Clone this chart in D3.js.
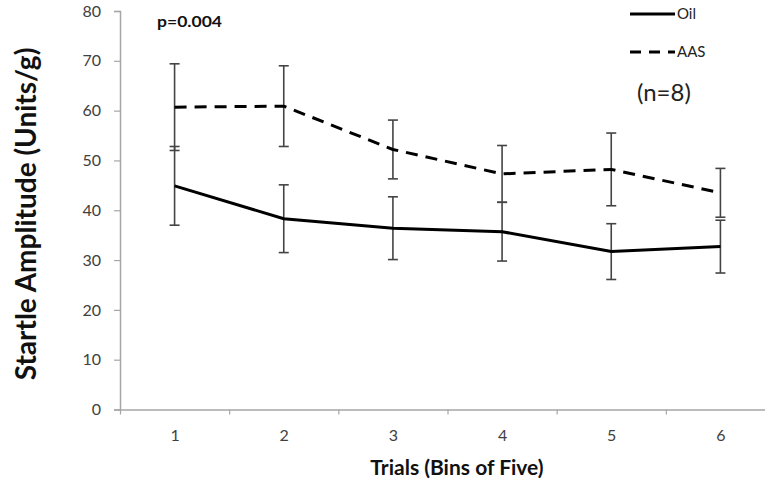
<!DOCTYPE html>
<html>
<head>
<meta charset="utf-8">
<script src="https://cdn.jsdelivr.net/npm/d3@7"></script>
<style>
  html, body { margin: 0; padding: 0; background: #fff; }
  svg { display: block; font-family: Lato, "Open Sans", sans-serif; }
</style>
</head>
<body>
<svg id="chart" width="765" height="482"></svg>
<script>
// Trial bins on the x axis
const bins = [1, 2, 3, 4, 5, 6];
// Mean startle amplitude per bin and its error (± half range)
const oilMean = [44.9, 38.3, 36.4, 35.7, 31.7, 32.7];
const oilErr  = [7.9, 6.8, 6.3, 5.9, 5.6, 5.3];
const aasMean = [60.7, 60.9, 52.2, 47.3, 48.2, 43.5];
const aasErr  = [8.7, 8.1, 5.9, 5.7, 7.3, 4.9];
const yTicks = [0, 10, 20, 30, 40, 50, 60, 70, 80];

const series = [
  { name: "Oil", mean: oilMean, err: oilErr, dash: null },
  { name: "AAS", mean: aasMean, err: aasErr, dash: "12,8" }
];

const svg = d3.select("#chart");
const plotLeft = 120, plotTop = 11, plotBottom = 409.5, plotRight = 775;

const x = d3.scaleLinear().domain([0.5, 6.5]).range([plotLeft, plotRight]);
const y = d3.scaleLinear().domain([0, 80]).range([plotBottom, plotTop]);

const axisColor = "#a6a6a6";
const labelColor = "#404040";

// Y axis
const yAxis = svg.append("g")
  .attr("transform", `translate(${plotLeft},0)`)
  .call(d3.axisLeft(y).tickValues(yTicks).tickSize(6).tickPadding(13));
yAxis.select(".domain").attr("stroke", axisColor).attr("stroke-width", 1.5);
yAxis.selectAll(".tick line").attr("stroke", axisColor).attr("stroke-width", 1.2);
yAxis.selectAll(".tick text").attr("fill", labelColor)
  .style("font-size", "16px").style("font-family", "Lato, sans-serif");

// X axis: ticks on bin boundaries, labels at bin centres
const boundaries = d3.range(0.5, 7, 1);
const xAxis = svg.append("g")
  .attr("transform", `translate(0,${plotBottom})`)
  .call(d3.axisBottom(x).tickValues(boundaries).tickSize(5).tickFormat(""));
xAxis.select(".domain").attr("stroke", axisColor).attr("stroke-width", 1.5)
  .attr("d", `M${plotLeft},0.5H${plotRight}`);
xAxis.selectAll(".tick line").attr("stroke", axisColor).attr("stroke-width", 1.2);

const xLabels = svg.append("g")
  .attr("transform", `translate(0,${plotBottom})`)
  .call(d3.axisBottom(x).tickValues(bins).tickSize(0).tickPadding(20).tickFormat(d3.format("d")));
xLabels.select(".domain").remove();
xLabels.selectAll(".tick text").attr("fill", labelColor)
  .style("font-size", "16px").style("font-family", "Lato, sans-serif");

// Error bars
const capHalf = 5;
series.forEach(s => {
  const g = svg.append("g").attr("class", "err-" + s.name);
  bins.forEach((b, i) => {
    const cx = x(b), hi = y(s.mean[i] + s.err[i]), lo = y(s.mean[i] - s.err[i]);
    g.append("line").attr("x1", cx).attr("x2", cx).attr("y1", hi).attr("y2", lo)
      .attr("stroke", "#444").attr("stroke-width", 1.6);
    [hi, lo].forEach(yy => g.append("line")
      .attr("x1", cx - capHalf).attr("x2", cx + capHalf).attr("y1", yy).attr("y2", yy)
      .attr("stroke", "#444").attr("stroke-width", 1.6));
  });
});

// Mean lines
const line = d3.line().x((d, i) => x(bins[i])).y(d => y(d));
series.forEach(s => {
  svg.append("path").datum(s.mean)
    .attr("d", line)
    .attr("fill", "none")
    .attr("stroke", "#000")
    .attr("stroke-width", 3)
    .attr("stroke-dasharray", s.dash);
});

// Legend
const legend = svg.append("g");
series.forEach((s, i) => {
  const ly = 14 + i * 38;
  legend.append("line").attr("x1", 630).attr("x2", 675).attr("y1", ly).attr("y2", ly)
    .attr("stroke", "#000").attr("stroke-width", 3)
    .attr("stroke-dasharray", s.dash ? "11,8" : null);
  legend.append("text").attr("x", 677).attr("y", ly).attr("dy", "0.36em")
    .style("font-size", "15px").attr("fill", "#222").text(s.name);
});
legend.append("text").attr("x", 637).attr("y", 92).attr("dy", "0.36em")
  .style("font-size", "24px").attr("fill", "#222").text("(n=8)");

// Annotation
svg.append("text").attr("x", 157).attr("y", 22).attr("dy", "0.36em")
  .style("font-size", "15px").style("font-weight", "bold").attr("fill", "#111")
  .attr("textLength", 65).attr("lengthAdjust", "spacingAndGlyphs")
  .text("p=0.004");

// Axis titles
svg.append("text")
  .attr("transform", `translate(36,214) rotate(-90)`)
  .attr("text-anchor", "middle")
  .style("font-size", "28px").style("font-weight", "bold").attr("fill", "#111")
  .text("Startle Amplitude (Units/g)");

svg.append("text")
  .attr("x", 457).attr("y", 475).attr("text-anchor", "middle")
  .style("font-size", "21px").style("font-weight", "bold").attr("fill", "#111")
  .text("Trials (Bins of Five)");
</script>
</body>
</html>
